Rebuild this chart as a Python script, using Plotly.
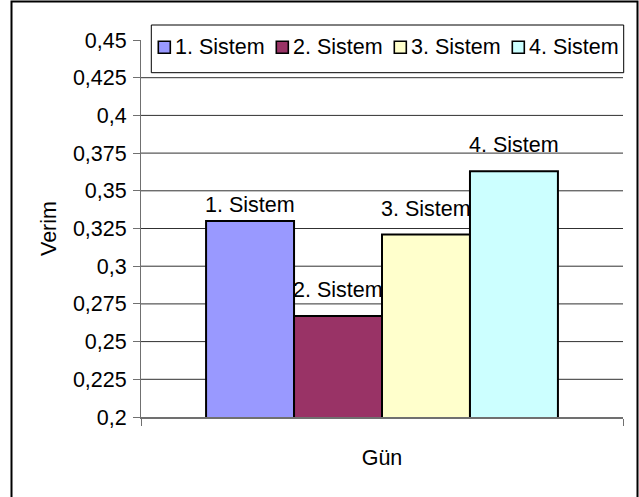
import plotly.graph_objects as go

# Data
categories = ["Gün"]
series_names = ["1. Sistem", "2. Sistem", "3. Sistem", "4. Sistem"]
verim = [0.33, 0.267, 0.321, 0.363]
colors = ["#9999FF", "#993366", "#FFFFCC", "#CCFFFF"]
y_ticks = [0.2, 0.225, 0.25, 0.275, 0.3, 0.325, 0.35, 0.375, 0.4, 0.425, 0.45]
y_tick_labels = ["0,2", "0,225", "0,25", "0,275", "0,3", "0,325", "0,35",
                 "0,375", "0,4", "0,425", "0,45"]

W, H = 639, 497
ML, MR, MT, MB = 141, 16, 40, 80
PW, PH = W - ML - MR, H - MT - MB
FONT = "Liberation Sans, Arial, sans-serif"
FS = 21.5
BARGAP = 0.27
# vertical lift (px) of each bar's name label above its bar
label_lift = [2, 12, 12, 12]


def px_x(px):
    return (px - ML) / PW


def px_y(py):
    return (H - MB - py) / PH


fig = go.Figure()
for name, val, col in zip(series_names, verim, colors):
    fig.add_trace(go.Bar(
        x=categories, y=[val], name=name,
        marker=dict(color=col, line=dict(color="black", width=2)),
        showlegend=False,
    ))

shapes = []
# horizontal gridlines at interior ticks
for v in y_ticks[1:-1]:
    shapes.append(dict(type="line", xref="paper", yref="y", x0=0, x1=1,
                       y0=v, y1=v, line=dict(color="#303030", width=1),
                       layer="below"))

# outer chart border
shapes.append(dict(type="rect", xref="paper", yref="paper",
                   x0=px_x(11.5), x1=px_x(637.5), y0=px_y(505), y1=px_y(1.5),
                   line=dict(color="black", width=2), fillcolor="rgba(0,0,0,0)",
                   layer="above"))

# legend box
lg_left, lg_right, lg_top, lg_bot = 151.3, 623.7, 25, 72.7
shapes.append(dict(type="rect", xref="paper", yref="paper",
                   x0=px_x(lg_left), x1=px_x(lg_right),
                   y0=px_y(lg_bot), y1=px_y(lg_top),
                   line=dict(color="black", width=1), fillcolor="white",
                   layer="above"))

annotations = []
pitch = 118.0
sq0 = 158.3
cy = 47.3
for i, (name, col) in enumerate(zip(series_names, colors)):
    sx = sq0 + i * pitch
    shapes.append(dict(type="rect", xref="paper", yref="paper",
                       x0=px_x(sx), x1=px_x(sx + 12),
                       y0=px_y(cy + 6), y1=px_y(cy - 6),
                       line=dict(color="black", width=1.6), fillcolor=col,
                       layer="above"))
    annotations.append(dict(xref="paper", yref="paper",
                            x=px_x(sx + 15), y=px_y(cy),
                            xanchor="left", yanchor="middle",
                            text=name, showarrow=False,
                            font=dict(family=FONT, size=FS, color="black")))

# series-name labels above each bar of the group
n = len(series_names)
bar_w = PW * (1 - BARGAP) / n
for i, (name, val) in enumerate(zip(series_names, verim)):
    annotations.append(dict(xref="x", yref="y", x=categories[0], y=val,
                            xanchor="center", yanchor="bottom",
                            xshift=(i - (n - 1) / 2) * bar_w,
                            yshift=label_lift[i],
                            text=name, showarrow=False,
                            font=dict(family=FONT, size=FS, color="black")))

fig.update_layout(
    width=W, height=H,
    margin=dict(l=ML, r=MR, t=MT, b=MB, pad=0),
    paper_bgcolor="white", plot_bgcolor="white",
    barmode="group", bargap=BARGAP, bargroupgap=0,
    font=dict(family=FONT, size=FS, color="black"),
    shapes=shapes, annotations=annotations,
    showlegend=False,
)
fig.update_yaxes(
    range=[0.2, 0.45], tickvals=y_ticks, ticktext=y_tick_labels,
    showgrid=False, zeroline=False,
    showline=True, linecolor="#707070", linewidth=1,
    ticks="outside", ticklen=7, tickcolor="#707070", ticklabelstandoff=2,
    tickfont=dict(family=FONT, size=FS, color="black"),
    title=dict(text="Verim", standoff=10,
               font=dict(family=FONT, size=FS, color="black")),
)
fig.update_xaxes(
    type="category", showticklabels=False, showgrid=False, zeroline=False,
    showline=True, linecolor="#707070", linewidth=1.5,
    ticks="outside", ticklen=7, tickcolor="#707070", tickson="boundaries",
    title=dict(text="Gün", standoff=32,
               font=dict(family=FONT, size=FS, color="black")),
)

fig.write_html("out.html")
